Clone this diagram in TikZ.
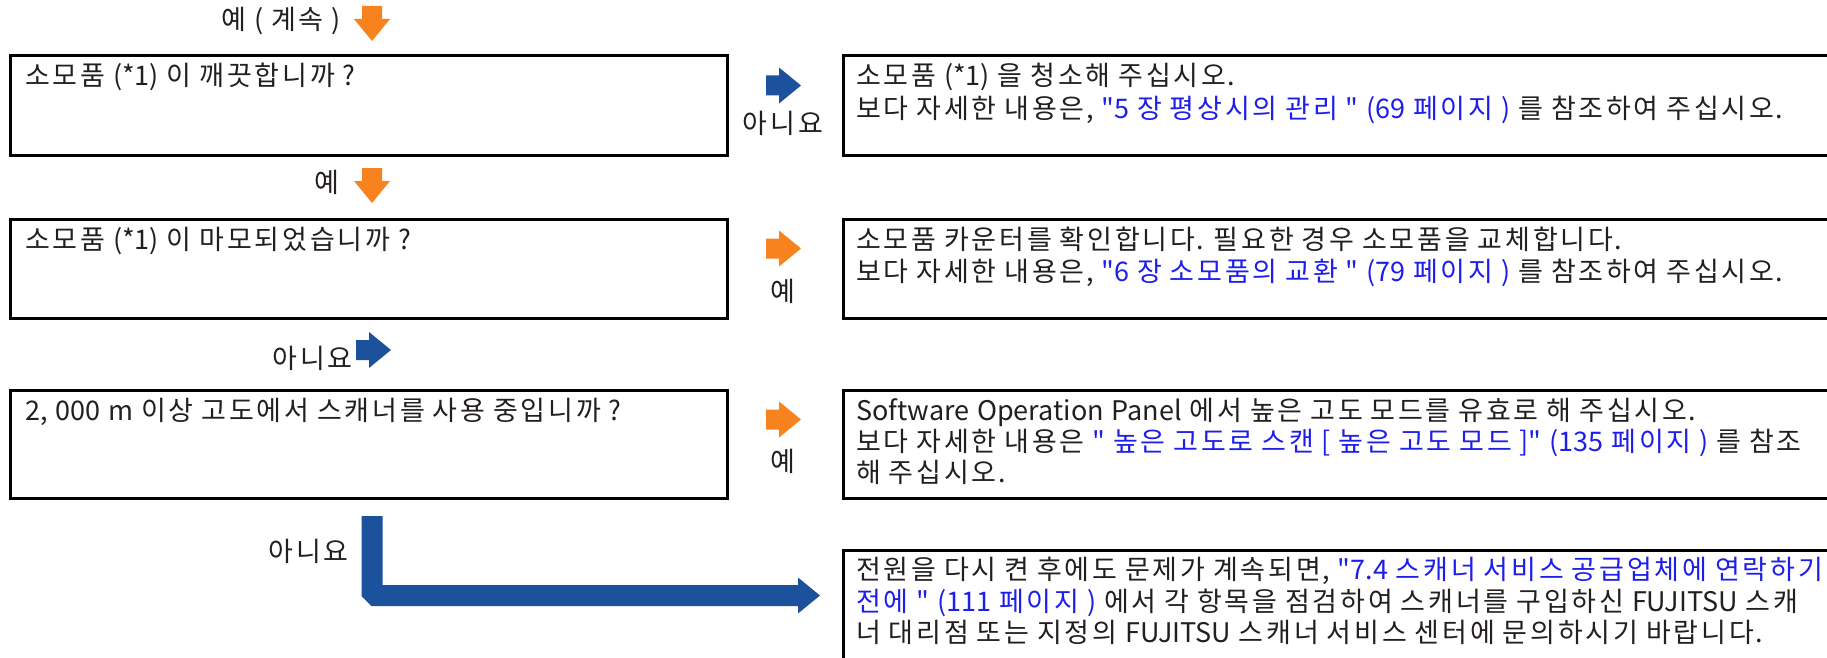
\documentclass[tikz,border=0pt]{standalone}
\usepackage{fontspec}
\usetikzlibrary{calc}
\newfontfamily\krfont{Noto Sans CJK KR}[WordSpace=1.3]
\definecolor{orangeA}{RGB}{247,130,30}
\definecolor{blueA}{RGB}{27,82,155}
\definecolor{linkB}{RGB}{30,30,235}
\definecolor{textK}{RGB}{35,31,32}
\newcommand{\lnk}[1]{\textcolor{linkB}{#1}}
% extra tracking for Hangul syllables
\newcount\hgc
\newXeTeXintercharclass\HgClass
\hgc="AC00
\loop
  \XeTeXcharclass\hgc=\HgClass
  \ifnum\hgc<"D7A3 \advance\hgc by 1
\repeat
\XeTeXinterchartoks 0 \HgClass = {\kern1.4pt}
\XeTeXinterchartoks \HgClass 0 = {\kern1.4pt}
\XeTeXinterchartoks \HgClass \HgClass = {\kern2.8pt}
\XeTeXinterchartokenstate=1
\begin{document}
\begin{tikzpicture}[x=1pt,y=-1pt,
  box/.style={draw=black, line width=3pt, anchor=north west, inner sep=0pt},
  qbox/.style={box, minimum width=717pt},
  abox/.style={box, minimum width=1100pt},
  txt/.style={anchor=base west, inner sep=0pt, text=textK, font=\krfont\fontsize{27}{32}\selectfont},
  lbl/.style={inner sep=0pt, text=textK, font=\krfont\fontsize{27}{32}\selectfont},
  downarr/.pic={\path[pic actions] (-10,0) -- (10,0) -- (10,13) -- (18,13) -- (0,35) -- (-18,13) -- (-10,13) -- cycle;},
  rightarr/.pic={\path[pic actions] (0,-10) -- (0,10) -- (13,10) -- (13,18) -- (35,0) -- (13,-18) -- (13,-10) -- cycle;}
]
\useasboundingbox (0,0) rectangle (1827,658);
% boxes
\node[qbox, minimum height=99pt] (q1) at (8.5,54.5) {};
\node[qbox, minimum height=99pt] (q2) at (8.5,217.5) {};
\node[qbox, minimum height=108pt] (q3) at (8.5,388.5) {};
\node[abox, minimum height=99pt] (a1) at (841.5,54.5) {};
\node[abox, minimum height=99pt] (a2) at (841.5,217.5) {};
\node[abox, minimum height=108pt] (a3) at (841.5,388.5) {};
\node[abox, minimum height=200pt] (a4) at (841.5,548.5) {};
% question texts
\node[txt] (q1t) at (25,86) {소모품 (*1) 이 깨끗합니까 ?};
\node[txt] (q2t) at (25,249) {소모품 (*1) 이 마모되었습니까 ?};
\node[txt] (q3t) at (25,420) {2, 000 m 이상 고도에서 스캐너를 사용 중입니까 ?};
% answer texts
\node[txt] (a1a) at (856,86) {소모품 (*1) 을 청소해 주십시오.};
\node[txt] (a1b) at (856,119) {보다 자세한 내용은, \lnk{"5 장 평상시의 관리 " (69 페이지 )} 를 참조하여 주십시오.};
\node[txt] (a2a) at (856,249) {소모품 카운터를 확인합니다. 필요한 경우 소모품을 교체합니다.};
\node[txt] (a2b) at (856,281) {보다 자세한 내용은, \lnk{"6 장 소모품의 교환 " (79 페이지 )} 를 참조하여 주십시오.};
\node[txt] (a3a) at (856,420) {Software Operation Panel 에서 높은 고도 모드를 유효로 해 주십시오.};
\node[txt] (a3b) at (856,451) {보다 자세한 내용은 \lnk{" 높은 고도로 스캔 [ 높은 고도 모드 ]" (135 페이지 )} 를 참조};
\node[txt] (a3c) at (856,482) {해 주십시오.};
\node[txt] (a4a) at (856,579) {전원을 다시 켠 후에도 문제가 계속되면, \lnk{"7.4 스캐너 서비스 공급업체에 연락하기}};
\node[txt] (a4b) at (856,611) {\lnk{전에 " (111 페이지 )} 에서 각 항목을 점검하여 스캐너를 구입하신 FUJITSU 스캐};
\node[txt] (a4c) at (856,642) {너 대리점 또는 지정의 FUJITSU 스캐너 서비스 센터에 문의하시기 바랍니다.};
% labels
\node[lbl, anchor=base east] (l0) at (341,30) {예 ( 계속 )};
\node[lbl, anchor=base] (l1) at (783,133) {아니요};
\node[lbl, anchor=base east] (l2) at (340,192) {예};
\node[lbl, anchor=base] (l3) at (783,301) {예};
\node[lbl, anchor=base east] (l4) at (353,368) {아니요};
\node[lbl, anchor=base] (l5) at (783,471) {예};
\node[lbl, anchor=base east] (l6) at (349,561) {아니요};
% small arrows
\pic[fill=orangeA] (d0) at (372,6) {downarr};
\pic[fill=orangeA] (d1) at (372,168) {downarr};
\pic[fill=blueA] (r1) at (766,85.5) {rightarr};
\pic[fill=orangeA] (r2) at (766,248.5) {rightarr};
\pic[fill=blueA] (r3) at (356,350) {rightarr};
\pic[fill=orangeA] (r4) at (766,419.5) {rightarr};
% L-shaped arrow from q3 to a4
\coordinate (Ltop) at ([shift={(3.5,16.5)}]q3.south);
\coordinate (Ltip) at ([shift={(-21.5,47)}]a4.north west);
\coordinate (Lsl) at ([shift={(-10.5,0)}]Ltop);
\coordinate (Lsr) at ([shift={(10.5,0)}]Ltop);
\coordinate (Lbt) at ([shift={(-22,-10.5)}]Ltip);
\coordinate (Lbb) at ([shift={(-22,10.5)}]Ltip);
\fill[blueA] (Lsl) -- (Lsr) -- (Lsr |- Lbt) -- (Lbt)
  -- ([shift={(-22,-18)}]Ltip) -- (Ltip) -- ([shift={(-22,18)}]Ltip)
  -- (Lbb) -- ($(Lsl |- Lbb)+(10,0)$) -- ($(Lsl |- Lbb)+(0,-10)$) -- cycle;
\end{tikzpicture}
\end{document}
